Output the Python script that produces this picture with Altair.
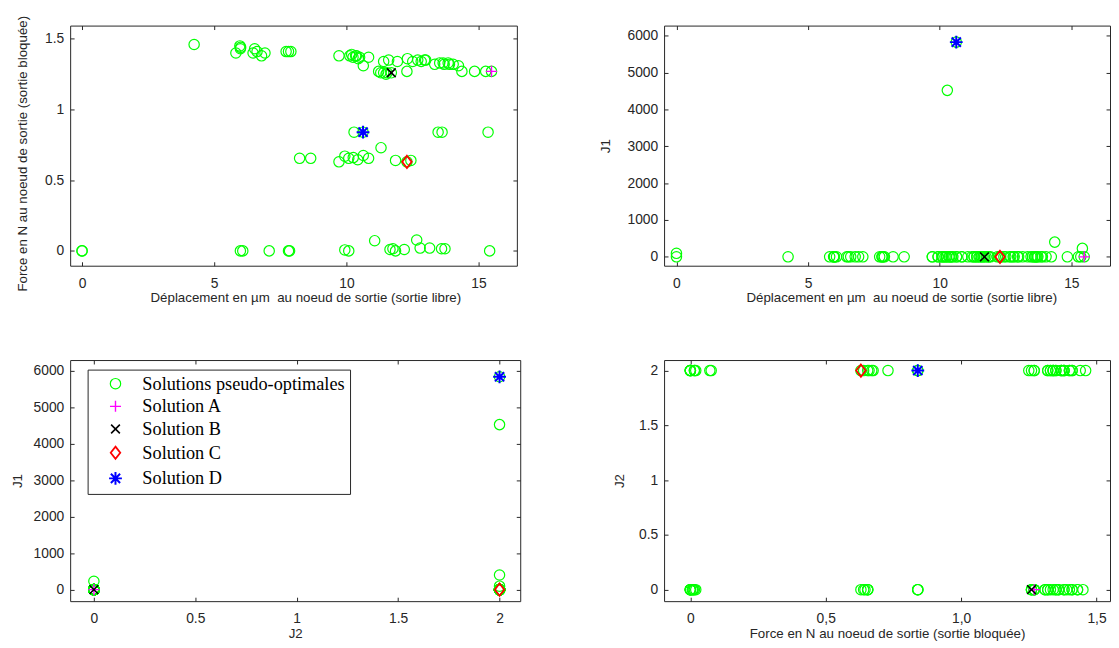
import altair as alt
import pandas as pd

# ---------------- series definitions ----------------
series_names = ["Solutions pseudo-optimales", "Solution A", "Solution B", "Solution C", "Solution D"]
series_colors = ["#00ff00", "#ff00ff", "#000000", "#ff0000", "#0000ff"]
PLUS = "M-1,0L1,0M0,-1L0,1"
CROSS = "M-0.75,-0.75L0.75,0.75M-0.75,0.75L0.75,-0.75"
DIAMOND = "M0,-1L0.78,0L0,1L-0.78,0Z"
STAR = "M-1,0L1,0M0,-1L0,1M-0.72,-0.72L0.72,0.72M-0.72,0.72L0.72,-0.72"
series_shapes = ["circle", PLUS, CROSS, DIAMOND, STAR]
series_sizes = [110, 169, 160, 225, 150]
series_strokes = [1.2, 2, 2, 2, 2]

# ---------------- pseudo-optimal solutions ----------------
# displacement (µm), blocked force (N), J1, J2
pareto_disp = [
    4.24, 5.97, 6.00, 5.99, 5.82, 6.53, 6.47, 6.62, 6.79, 6.92, 7.72, 7.81, 7.90,
    9.72, 10.13, 10.20, 10.25, 10.35, 10.38, 10.45, 10.50, 10.64, 10.84,
    11.22, 11.30, 11.41, 11.50, 11.54, 11.41, 11.60, 11.93, 12.31, 12.51, 12.29,
    12.70, 12.83, 12.96, 13.00, 13.34, 13.53, 13.66, 13.70, 13.85, 13.90, 14.04,
    14.24, 14.37, 14.85, 15.27,
    10.29, 13.47, 13.62, 15.36, 11.31,
    8.23, 8.65, 9.72, 9.94, 10.09, 10.26, 10.43, 10.64, 10.84, 11.86, 12.44,
    0.00, 0.00, 5.99, 6.08, 7.08, 7.81, 7.85, 9.94, 10.09, 11.07, 11.65, 11.76,
    11.86, 12.19, 12.66, 12.79, 13.15, 13.60, 13.73, 15.42,
    15.49, 11.70, 12.29, 10.63,
]
pareto_force = [
    1.46, 1.45, 1.44, 1.43, 1.40, 1.43, 1.40, 1.41, 1.38, 1.40, 1.41, 1.41, 1.41,
    1.38, 1.38, 1.39, 1.37, 1.38, 1.38, 1.36, 1.37, 1.31, 1.37,
    1.27, 1.26, 1.26, 1.25, 1.26, 1.34, 1.35, 1.34, 1.36, 1.34, 1.27,
    1.35, 1.34, 1.35, 1.35, 1.32, 1.33, 1.33, 1.32, 1.33, 1.32, 1.32,
    1.31, 1.27, 1.27, 1.27,
    0.84, 0.84, 0.84, 0.84, 0.73,
    0.655, 0.655, 0.63, 0.67, 0.655, 0.66, 0.645, 0.675, 0.655, 0.64, 0.64,
    0.0, 0.0, 0.0, 0.0, 0.0, 0.0, 0.0, 0.007, 0.0, 0.072, 0.01, 0.015,
    0.0, 0.01, 0.077, 0.02, 0.02, 0.015, 0.015, 0.0,
    1.27, 1.26, 0.63, 0.84,
]
pareto_j1 = [
    0, 0, 0, 0, 0, 0, 0, 0, 0, 0, 0, 0, 0,
    0, 0, 0, 0, 0, 0, 0, 0, 0, 0,
    0, 0, 0, 0, 0, 0, 0, 0, 0, 0, 0,
    0, 0, 0, 0, 0, 0, 0, 0, 0, 0, 0,
    0, 400, 0, 0,
    4520, 0, 0, 0, 0,
    0, 0, 0, 0, 0, 0, 0, 0, 0, 0, 0,
    0, 95, 0, 0, 0, 0, 0, 0, 0, 0, 0, 0,
    0, 0, 0, 0, 0, 0, 0, 230,
    0, 0, 0, 5830,
]
pareto_j2 = [
    2, 0, 2, 0, 2, 0, 2, 0, 2, 0, 2, 0, 2,
    0, 2, 0, 2, 0, 2, 0, 2, 0, 2,
    0, 2, 0, 2, 0, 2, 0, 2, 0, 2, 0,
    2, 0, 2, 0, 2, 0, 2, 0, 2, 0, 2,
    0, 2, 0, 2,
    2, 0, 0, 0, 2,
    0, 2, 0, 2, 0, 2, 0, 2, 0, 0, 2,
    0, 2, 2, 0, 2, 0, 2, 0, 2, 2, 0, 2,
    0, 0, 2, 0, 2, 0, 2, 0,
    0, 0, 2, 2,
]

# ---------------- highlighted solutions A, B, C, D ----------------
sol_disp = [15.49, 11.70, 12.29, 10.63]
sol_force = [1.27, 1.26, 0.63, 0.84]
sol_j1 = [0, 0, 0, 5830]
sol_j2 = [0, 0, 2, 2]

rows = []
for d, f, a, b in zip(pareto_disp, pareto_force, pareto_j1, pareto_j2):
    rows.append({"disp": d, "force": f, "J1": a, "J2": b, "serie": series_names[0]})
for name, d, f, a, b in zip(series_names[1:], sol_disp, sol_force, sol_j1, sol_j2):
    rows.append({"disp": d, "force": f, "J1": a, "J2": b, "serie": name})
df = pd.DataFrame(rows)
df["ordre"] = range(len(df))

# ---------------- tick values ----------------
disp_ticks = [0, 5, 10, 15]
force_ticks = [0, 0.5, 1, 1.5]
j1_ticks = [0, 1000, 2000, 3000, 4000, 5000, 6000]
j2_ticks_x = [0, 0.5, 1, 1.5, 2]
j2_ticks_y = [0, 0.5, 1, 1.5, 2]

TICK = 4
TXT = "#262626"
X_TITLE = "Déplacement en µm\u00a0 au noeud de sortie (sortie libre)"
F_TITLE = "Force en N au noeud de sortie (sortie bloquée)"


def panel(xf, yf, xdom, ydom, xticks, yticks, w, h, xtitle, ytitle, ytp,
          xtitle_x=None, ytitle_y=None, xlabel_expr=None, yfmt="~g", legend=None):
    xa = dict(values=xticks, format="~g", title=xtitle, grid=False, domain=False,
              tickSize=TICK, offset=-TICK, labelPadding=11, titlePadding=9.5,
              minExtent=20, maxExtent=20, labelFlush=False)
    if xtitle_x is not None:
        xa["titleX"] = xtitle_x
    if xlabel_expr is not None:
        xa["labelExpr"] = xlabel_expr
    ya = dict(values=yticks, format=yfmt, title=ytitle, grid=False, domain=False,
              tickSize=TICK, offset=-TICK, labelPadding=6.5, titlePadding=ytp,
              minExtent=30, maxExtent=30, labelFlush=False)
    if ytitle_y is not None:
        ya["titleY"] = ytitle_y
    xs = alt.Scale(domain=xdom, nice=False, zero=False)
    ys = alt.Scale(domain=ydom, nice=False, zero=False)

    pts = alt.Chart(df).mark_point(filled=False, opacity=1).encode(
        x=alt.X(xf, type="quantitative", scale=xs, axis=alt.Axis(**xa)),
        y=alt.Y(yf, type="quantitative", scale=ys, axis=alt.Axis(**ya)),
        color=alt.Color("serie:N", scale=alt.Scale(domain=series_names, range=series_colors), legend=legend),
        shape=alt.Shape("serie:N", scale=alt.Scale(domain=series_names, range=series_shapes), legend=legend),
        size=alt.Size("serie:N", scale=alt.Scale(domain=series_names, range=series_sizes), legend=None),
        strokeWidth=alt.StrokeWidth("serie:N", scale=alt.Scale(domain=series_names, range=series_strokes), legend=None),
        order=alt.Order("ordre:Q"),
    )
    mirror = alt.Chart(df).mark_point(opacity=0).encode(
        x=alt.X(xf, type="quantitative", scale=xs,
                axis=alt.Axis(orient="top", values=xticks, labels=False, title=None, grid=False,
                              domain=False, tickSize=TICK, offset=-TICK)),
        y=alt.Y(yf, type="quantitative", scale=ys,
                axis=alt.Axis(orient="right", values=yticks, labels=False, title=None, grid=False,
                              domain=False, tickSize=TICK, offset=-TICK)),
    )
    return alt.layer(pts, mirror).resolve_axis(x="independent", y="independent").properties(width=w, height=h)


legend = alt.Legend(
    orient="none", legendX=17.7, legendY=9.7, title=None,
    labelFont="Liberation Serif", labelFontSize=18.5, labelColor="#000000", labelLimit=400,
    symbolSize=150, symbolStrokeWidth=1.6, strokeColor="#262626", fillColor="#ffffff",
    padding=5, rowPadding=4, symbolOffset=14, labelOffset=18,
)

W1, H1 = 452.8, 243.4
W2 = 452.0
W3, H2 = 456.2, 244.4

p1 = panel("disp", "force", [-0.45, 16.45], [-0.105, 1.594], disp_ticks, force_ticks,
           W1, H1, X_TITLE, F_TITLE, 15.7, xtitle_x=238.4, ytitle_y=129.4)
p2 = panel("disp", "J1", [-0.47, 16.47], [-241, 6279], disp_ticks, j1_ticks,
           W2, H1, X_TITLE, "J1", 26.1, xtitle_x=240.4, yfmt="d")
p3 = panel("J2", "J1", [-0.117, 2.102], [-316, 6289], j2_ticks_x, j1_ticks,
           W3, H2, "J2", "J1", 20.4, yfmt="d", legend=legend)
p4 = panel("force", "J2", [-0.097, 1.55], [-0.105, 2.096], force_ticks, j2_ticks_y,
           W2, H2, F_TITLE, "J2", 12.4,
           xlabel_expr="datum.value == 0 ? '0' : replace(format(datum.value, '.1f'), '.', ',')")

chart = alt.concat(
    p1, p2, p3, p4, columns=2, spacing={"row": 95, "column": 145}, bounds="flush"
).resolve_scale(
    color="independent", shape="independent", size="independent", strokeWidth="independent"
).configure_view(
    stroke=TXT, strokeWidth=1
).configure_axis(
    labelFont="Liberation Sans", labelFontSize=14, labelColor=TXT,
    titleFont="Liberation Sans", titleFontSize=13.5, titleFontWeight="normal", titleColor=TXT,
    tickColor=TXT, tickWidth=1,
).properties(
    padding={"left": 2, "top": 1.5, "right": 0, "bottom": 0}, background="white"
)

chart.save("out.html", embed_options={"renderer": "svg", "actions": False})
